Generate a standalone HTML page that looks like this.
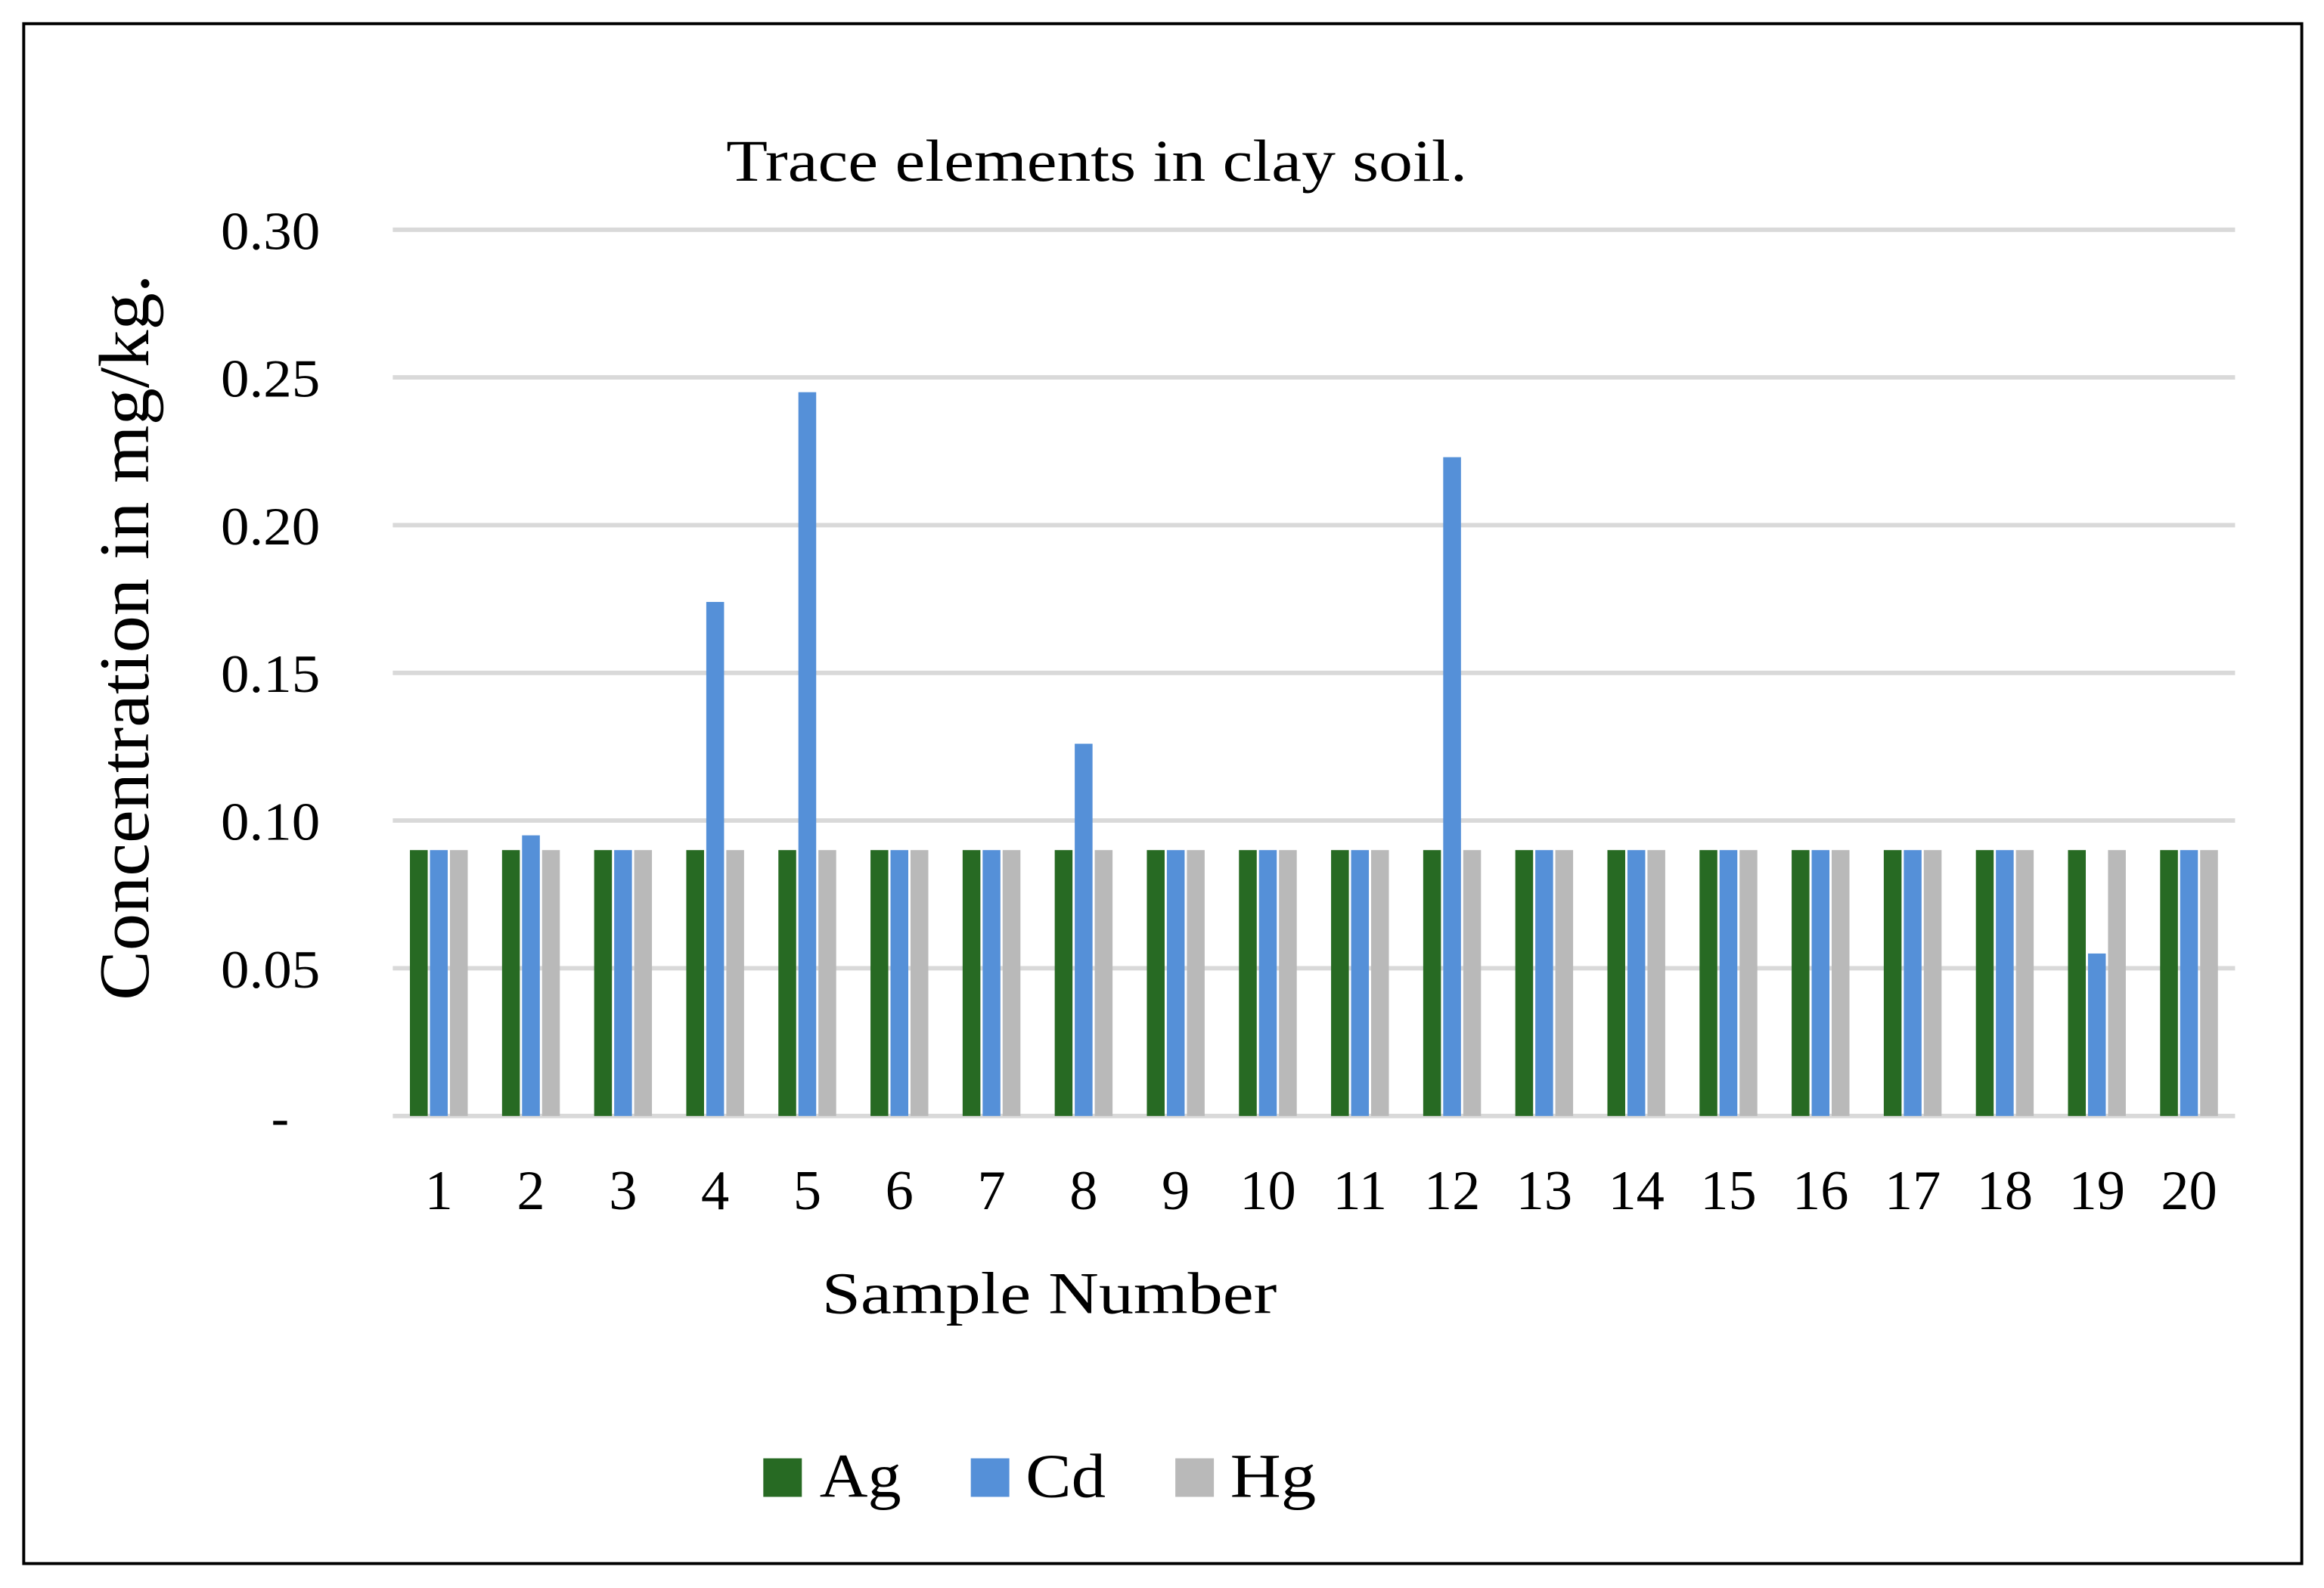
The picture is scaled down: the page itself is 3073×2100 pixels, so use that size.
<!DOCTYPE html>
<html><head><meta charset="utf-8"><style>
html,body{margin:0;padding:0;background:#fff;}
svg{display:block;}
text{font-family:"Liberation Serif",serif;fill:#000;}
</style></head><body>
<svg id="chart" width="3073" height="2100" viewBox="0 0 1568 1071.5" preserveAspectRatio="none" xmlns="http://www.w3.org/2000/svg">
<rect x="16" y="16" width="1537" height="1039" fill="#fff" stroke="#000" stroke-width="2"/>
<text x="740" y="122" font-size="40" text-anchor="middle" textLength="500" lengthAdjust="spacingAndGlyphs">Trace elements in clay soil.</text>
<text transform="translate(100,430) rotate(-90)" font-size="48" text-anchor="middle" textLength="490" lengthAdjust="spacingAndGlyphs">Concentration in mg/kg.</text>
<text x="708" y="886" font-size="40" text-anchor="middle" textLength="307" lengthAdjust="spacingAndGlyphs">Sample Number</text>
<g id="grid"></g>
<g id="bars"></g>
<g id="xlabels"></g>
<g>
<rect x="515" y="984" width="26" height="26" fill="#276a23"/>
<text x="553" y="1010" font-size="42" textLength="55" lengthAdjust="spacingAndGlyphs">Ag</text>
<rect x="655" y="984" width="26" height="26" fill="#5590d8"/>
<text x="692" y="1010" font-size="42" textLength="54" lengthAdjust="spacingAndGlyphs">Cd</text>
<rect x="793" y="984" width="26" height="26" fill="#b9b9b9"/>
<text x="830" y="1010" font-size="42" textLength="58" lengthAdjust="spacingAndGlyphs">Hg</text>
</g>
</svg>
<script>
const categories = ["1","2","3","4","5","6","7","8","9","10","11","12","13","14","15","16","17","18","19","20"];
const agValues = [0.09,0.09,0.09,0.09,0.09,0.09,0.09,0.09,0.09,0.09,0.09,0.09,0.09,0.09,0.09,0.09,0.09,0.09,0.09,0.09];
const cdValues = [0.09,0.095,0.09,0.174,0.245,0.09,0.09,0.126,0.09,0.09,0.09,0.223,0.09,0.09,0.09,0.09,0.09,0.09,0.055,0.09];
const hgValues = [0.09,0.09,0.09,0.09,0.09,0.09,0.09,0.09,0.09,0.09,0.09,0.09,0.09,0.09,0.09,0.09,0.09,0.09,0.09,0.09];
const yTicks = [0,0.05,0.10,0.15,0.20,0.25,0.30];
const yTickLabels = ["-","0.05","0.10","0.15","0.20","0.25","0.30"];

const NS="http://www.w3.org/2000/svg";
const x0=265,x1=1508,yBase=753,yTop=155,yMax=0.30;
const band=(x1-x0)/categories.length;
function yScale(v){return yBase-(v/yMax)*(yBase-yTop);}
function xCenter(i){return x0+band*(i+0.5);}
function mk(tag,attrs,parent){const e=document.createElementNS(NS,tag);for(const k in attrs)e.setAttribute(k,attrs[k]);parent.appendChild(e);return e;}
const grid=document.getElementById('grid');
yTicks.forEach((t,i)=>{
  const y=yScale(t);
  const l=mk('line',{x1:x0,x2:x1,y1:y,y2:y,stroke:'#d9d9d9','stroke-width':3},grid);
  
  
  const tx=mk('text',{x:i===0?195:216,y:y+13,'font-size':36,'text-anchor':'end'},grid);
  if(i>0){tx.setAttribute('textLength',67);tx.setAttribute('lengthAdjust','spacingAndGlyphs');}
  tx.textContent=yTickLabels[i];
  
  
});
const bars=document.getElementById('bars');
const series=[[agValues,'#276a23','ag',-1],[cdValues,'#5590d8','cd',0],[hgValues,'#b9b9b9','hg',1]];
const bw=12,step=13.5;
categories.forEach((c,i)=>{
  series.forEach(s=>{
    const v=s[0][i];const cx=xCenter(i)+s[3]*step;
    const r=mk('rect',{x:cx-bw/2,y:yScale(v),width:bw,height:yBase-yScale(v),fill:s[1]},bars);
    
    
  });
  const t=mk('text',{x:xCenter(i),y:816,'font-size':38,'text-anchor':'middle'},document.getElementById('xlabels'));
  t.textContent=c;
  
  
});
</script>
</body></html>
